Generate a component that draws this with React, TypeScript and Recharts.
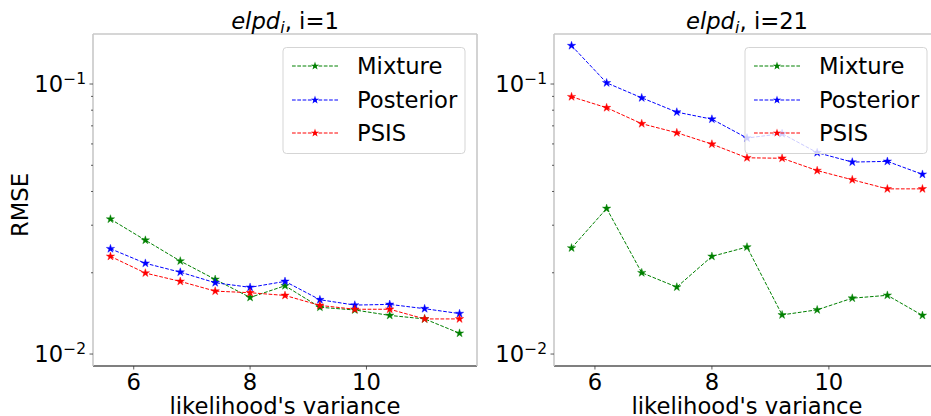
import React from "react";
import { LineChart, Line, XAxis, YAxis } from "recharts";

// likelihood's variance
const xs = [5.6, 6.2, 6.8, 7.4, 8.0, 8.6, 9.2, 9.8, 10.4, 11.0, 11.6];

// panel i=1
const mixture1 = [0.0316, 0.0264, 0.0221, 0.0189, 0.0162, 0.0179, 0.0149, 0.01456, 0.0139, 0.01349, 0.01194];
const posterior1 = [0.02454, 0.02168, 0.0201, 0.01837, 0.01766, 0.01858, 0.01589, 0.01518, 0.01527, 0.01472, 0.01412];
const psis1 = [0.023, 0.01995, 0.01858, 0.0171, 0.01687, 0.01648, 0.01514, 0.01465, 0.01465, 0.01349, 0.01349];

// panel i=21
const mixture21 = [0.0247, 0.0346, 0.02, 0.0177, 0.023, 0.0249, 0.01396, 0.01458, 0.0161, 0.0165, 0.0139];
const posterior21 = [0.1387, 0.101, 0.0889, 0.0787, 0.0741, 0.0631, 0.0655, 0.0557, 0.0514, 0.0517, 0.0463];
const psis21 = [0.0897, 0.0817, 0.0713, 0.066, 0.0599, 0.0533, 0.0531, 0.0478, 0.0442, 0.0409, 0.0409];

const xTicks = [6, 8, 10];
const yTicks = [0.01, 0.02, 0.03, 0.04, 0.05, 0.06, 0.07, 0.08, 0.09, 0.1];
const majorLabels: Record<string, string> = { "0.01": "−2", "0.1": "−1" };

const seriesNames = ["Mixture", "Posterior", "PSIS"];
const seriesKeys = ["mixture", "posterior", "psis"];
const seriesColors = ["#008000", "#0000ff", "#ff0000"];

const FONT = "DejaVu Sans";
const FS = 22.7;
const SPINE = "#c8c8c8";

function buildData(m: number[], p: number[], s: number[]) {
  return xs.map((x, i) => ({ x, mixture: m[i], posterior: p[i], psis: s[i] }));
}

const data1 = buildData(mixture1, posterior1, psis1);
const data21 = buildData(mixture21, posterior21, psis21);

function starPath(cx: number, cy: number, R: number) {
  const r = R * 0.382;
  let d = "";
  for (let k = 0; k < 10; k++) {
    const rad = k % 2 === 0 ? R : r;
    const a = -Math.PI / 2 + (k * Math.PI) / 5;
    d += (k === 0 ? "M" : "L") + (cx + rad * Math.cos(a)).toFixed(2) + "," + (cy + rad * Math.sin(a)).toFixed(2);
  }
  return d + "Z";
}

const starDot = (color: string) => (props: any) => {
  const { cx, cy, index } = props;
  if (cx == null || cy == null) return <g key={index} />;
  return <path key={index} d={starPath(cx, cy, 4.4)} fill={color} stroke={color} strokeWidth={0.4} />;
};

const YTick = (props: any) => {
  const { x, y, payload } = props;
  const exp = majorLabels[String(payload.value)];
  return (
    <g>
      <line x1={x - (exp ? 3.5 : 2)} x2={x} y1={y} y2={y} stroke="#333" strokeWidth={0.8} />
      {exp && (
        <text x={x - 7} y={y + 8} textAnchor="end" fontFamily={FONT} fontSize={FS} fill="#000">
          <tspan>10</tspan>
          <tspan dy={-8} fontSize={15.5}>{exp}</tspan>
        </text>
      )}
    </g>
  );
};

const XTick = (props: any) => {
  const { x, y, payload } = props;
  return (
    <g>
      <line x1={x} x2={x} y1={y} y2={y + 3.5} stroke="#333" strokeWidth={0.8} />
      <text x={x} y={y + 23.5} textAnchor="middle" fontFamily={FONT} fontSize={FS} fill="#000">
        {payload.value}
      </text>
    </g>
  );
};

function Panel({ left, data, marginLeft, marginRight }: { left: number; data: any[]; marginLeft: number; marginRight: number }) {
  return (
    <div style={{ position: "absolute", left, top: 0 }}>
      <LineChart
        width={480}
        height={416}
        data={data}
        margin={{ top: 34, right: marginRight, bottom: 20, left: marginLeft }}
      >
        <XAxis
          dataKey="x"
          type="number"
          domain={[5.3, 11.9]}
          ticks={xTicks}
          allowDataOverflow
          interval={0}
          height={30}
          tickSize={0}
          tickMargin={0}
          tickLine={false}
          tick={<XTick />}
          axisLine={{ stroke: "#555", strokeWidth: 1.3 }}
        />
        <YAxis
          type="number"
          scale="log"
          domain={[0.00903, 0.1532]}
          ticks={yTicks}
          allowDataOverflow
          interval={0}
          width={60}
          tickSize={0}
          tickMargin={0}
          tickLine={false}
          tick={<YTick />}
          axisLine={{ stroke: SPINE, strokeWidth: 1.6 }}
        />
        {seriesKeys.map((k, i) => (
          <Line
            key={k}
            dataKey={k}
            type="linear"
            stroke={seriesColors[i]}
            strokeWidth={1}
            strokeDasharray="3.7 1.6"
            dot={starDot(seriesColors[i])}
            activeDot={false}
            isAnimationActive={false}
          />
        ))}
      </LineChart>
    </div>
  );
}

function LegendBox({ x }: { x: number }) {
  const rows = [66, 100, 133];
  return (
    <g>
      <rect x={x} y={47.5} width={182} height={106} rx={3.5} fill="#fff" fillOpacity={0.8} stroke="#d5d5d5" strokeWidth={1} />
      {seriesNames.map((name, i) => (
        <g key={name}>
          <line x1={x + 9} x2={x + 55} y1={rows[i]} y2={rows[i]} stroke={seriesColors[i]} strokeWidth={1} strokeDasharray="3.7 1.6" />
          <path d={starPath(x + 32, rows[i], 4.4)} fill={seriesColors[i]} />
          <text x={x + 74} y={rows[i] + 8} fontFamily={FONT} fontSize={FS} fill="#000">
            {name}
          </text>
        </g>
      ))}
    </g>
  );
}

function Title({ cx, label }: { cx: number; label: string }) {
  return (
    <text x={cx} y={29} textAnchor="middle" fontFamily={FONT} fontSize={FS} fill="#000">
      <tspan fontStyle="italic">elpd</tspan>
      <tspan fontStyle="italic" fontSize={16} dy={4}>i</tspan>
      <tspan dy={-4}>{", " + label}</tspan>
    </text>
  );
}

export default function App() {
  return (
    <div style={{ position: "absolute", left: 0, top: 0, width: 931, height: 416, overflow: "hidden", background: "#fff" }}>
      <Panel left={0} data={data1} marginLeft={33} marginRight={3} />
      <Panel left={470} data={data21} marginLeft={24} marginRight={10} />
      <svg width={931} height={416} style={{ position: "absolute", left: 0, top: 0, pointerEvents: "none" }}>
        {/* top / right spines */}
        <line x1={93} x2={477} y1={34} y2={34} stroke={SPINE} strokeWidth={1.6} />
        <line x1={477} x2={477} y1={34} y2={366} stroke={SPINE} strokeWidth={1.6} />
        <line x1={554} x2={940} y1={34} y2={34} stroke={SPINE} strokeWidth={1.6} />

        <Title cx={285} label="i=1" />
        <Title cx={747} label="i=21" />

        <text x={285} y={414} textAnchor="middle" fontFamily={FONT} fontSize={FS} fill="#000">
          likelihood's variance
        </text>
        <text x={747} y={414} textAnchor="middle" fontFamily={FONT} fontSize={FS} fill="#000">
          likelihood's variance
        </text>
        <text x={28} y={205} textAnchor="middle" fontFamily={FONT} fontSize={FS} fill="#000" transform="rotate(-90 28 205)">
          RMSE
        </text>

        <LegendBox x={283} />
        <LegendBox x={745} />
      </svg>
    </div>
  );
}
